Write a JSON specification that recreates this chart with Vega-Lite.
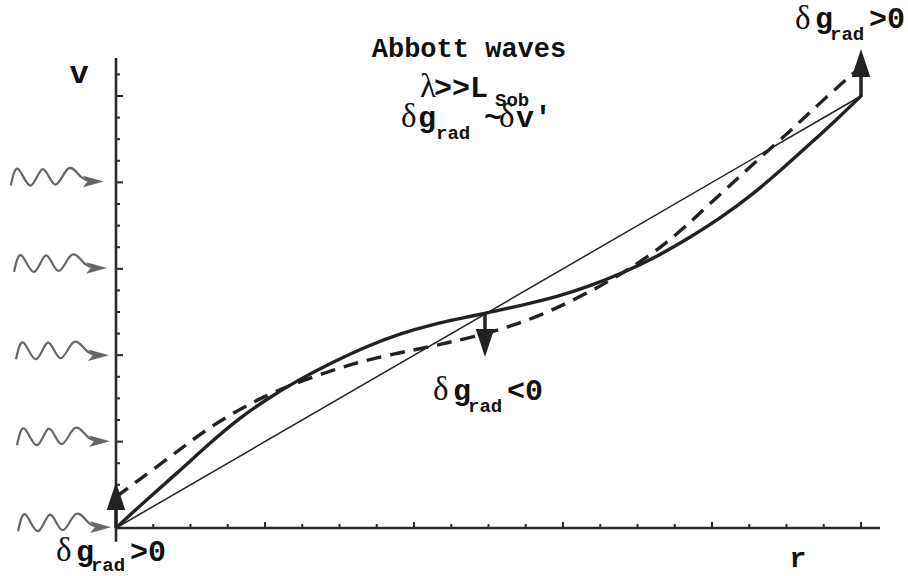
{
  "$schema": "https://vega.github.io/schema/vega-lite/v6.json",
  "width": 908,
  "height": 576,
  "autosize": "none",
  "padding": 0,
  "background": "white",
  "config": {"view": {"stroke": null}},
  "datasets": {
    "axes": [
      {"x": 0, "y": -0.032, "x2": 0, "y2": 1.088},
      {"x": 0, "y": 0, "x2": 1.0255, "y2": 0}
    ],
    "xticks": [
      {"x": 0.05, "y": 0, "m": 0}, {"x": 0.1, "y": 0, "m": 0}, {"x": 0.15, "y": 0, "m": 0}, {"x": 0.2, "y": 0, "m": 1},
      {"x": 0.25, "y": 0, "m": 0}, {"x": 0.3, "y": 0, "m": 0}, {"x": 0.35, "y": 0, "m": 0}, {"x": 0.4, "y": 0, "m": 1},
      {"x": 0.45, "y": 0, "m": 0}, {"x": 0.5, "y": 0, "m": 0}, {"x": 0.55, "y": 0, "m": 0}, {"x": 0.6, "y": 0, "m": 1},
      {"x": 0.65, "y": 0, "m": 0}, {"x": 0.7, "y": 0, "m": 0}, {"x": 0.75, "y": 0, "m": 0}, {"x": 0.8, "y": 0, "m": 1},
      {"x": 0.85, "y": 0, "m": 0}, {"x": 0.9, "y": 0, "m": 0}, {"x": 0.95, "y": 0, "m": 0}, {"x": 1.0, "y": 0, "m": 1}
    ],
    "yticks": [
      {"x": 0, "y": 0.05, "m": 0}, {"x": 0, "y": 0.1, "m": 0}, {"x": 0, "y": 0.15, "m": 0}, {"x": 0, "y": 0.2, "m": 1},
      {"x": 0, "y": 0.25, "m": 0}, {"x": 0, "y": 0.3, "m": 0}, {"x": 0, "y": 0.35, "m": 0}, {"x": 0, "y": 0.4, "m": 1},
      {"x": 0, "y": 0.45, "m": 0}, {"x": 0, "y": 0.5, "m": 0}, {"x": 0, "y": 0.55, "m": 0}, {"x": 0, "y": 0.6, "m": 1},
      {"x": 0, "y": 0.65, "m": 0}, {"x": 0, "y": 0.7, "m": 0}, {"x": 0, "y": 0.75, "m": 0}, {"x": 0, "y": 0.8, "m": 1},
      {"x": 0, "y": 0.85, "m": 0}, {"x": 0, "y": 0.9, "m": 0}, {"x": 0, "y": 0.95, "m": 0}, {"x": 0, "y": 1.0, "m": 1},
      {"x": 0, "y": 1.05, "m": 0}
    ],
    "curves": [
      {"s": "w1", "x": -0.1413, "y": 0.7927}, {"s": "w1", "x": -0.1311, "y": 0.8309}, {"s": "w1", "x": -0.1145, "y": 0.7927},
      {"s": "w1", "x": -0.0983, "y": 0.8309}, {"s": "w1", "x": -0.0818, "y": 0.7951}, {"s": "w1", "x": -0.0640, "y": 0.8321},
      {"s": "w1", "x": -0.0460, "y": 0.8113}, {"s": "w1", "x": -0.0272, "y": 0.802},
      {"s": "w2", "x": -0.1369, "y": 0.5927}, {"s": "w2", "x": -0.1267, "y": 0.6309}, {"s": "w2", "x": -0.1101, "y": 0.5927},
      {"s": "w2", "x": -0.0939, "y": 0.6309}, {"s": "w2", "x": -0.0774, "y": 0.5951}, {"s": "w2", "x": -0.0596, "y": 0.6321},
      {"s": "w2", "x": -0.0416, "y": 0.6113}, {"s": "w2", "x": -0.0228, "y": 0.602},
      {"s": "w3", "x": -0.1342, "y": 0.3907}, {"s": "w3", "x": -0.1240, "y": 0.4289}, {"s": "w3", "x": -0.1074, "y": 0.3907},
      {"s": "w3", "x": -0.0912, "y": 0.4289}, {"s": "w3", "x": -0.0747, "y": 0.3931}, {"s": "w3", "x": -0.0569, "y": 0.4301},
      {"s": "w3", "x": -0.0389, "y": 0.4093}, {"s": "w3", "x": -0.0201, "y": 0.400},
      {"s": "w4", "x": -0.1329, "y": 0.1917}, {"s": "w4", "x": -0.1227, "y": 0.2299}, {"s": "w4", "x": -0.1061, "y": 0.1917},
      {"s": "w4", "x": -0.0899, "y": 0.2299}, {"s": "w4", "x": -0.0734, "y": 0.1941}, {"s": "w4", "x": -0.0556, "y": 0.2311},
      {"s": "w4", "x": -0.0376, "y": 0.2103}, {"s": "w4", "x": -0.0188, "y": 0.201},
      {"s": "w5", "x": -0.1315, "y": -0.0073}, {"s": "w5", "x": -0.1213, "y": 0.0309}, {"s": "w5", "x": -0.1047, "y": -0.0073},
      {"s": "w5", "x": -0.0885, "y": 0.0309}, {"s": "w5", "x": -0.0720, "y": -0.0049}, {"s": "w5", "x": -0.0542, "y": 0.0321},
      {"s": "w5", "x": -0.0362, "y": 0.0113}, {"s": "w5", "x": -0.0174, "y": 0.002},
      {"s": "thin", "x": 0, "y": 0}, {"s": "thin", "x": 1, "y": 1},
      {"s": "solid", "x": 0, "y": 0}, {"s": "solid", "x": 0.04, "y": 0.064}, {"s": "solid", "x": 0.082, "y": 0.127},
      {"s": "solid", "x": 0.126, "y": 0.197}, {"s": "solid", "x": 0.166, "y": 0.255}, {"s": "solid", "x": 0.203, "y": 0.299},
      {"s": "solid", "x": 0.243, "y": 0.341}, {"s": "solid", "x": 0.291, "y": 0.384}, {"s": "solid", "x": 0.337, "y": 0.421},
      {"s": "solid", "x": 0.381, "y": 0.450}, {"s": "solid", "x": 0.426, "y": 0.472}, {"s": "solid", "x": 0.471, "y": 0.488},
      {"s": "solid", "x": 0.495, "y": 0.497}, {"s": "solid", "x": 0.546, "y": 0.516}, {"s": "solid", "x": 0.592, "y": 0.535},
      {"s": "solid", "x": 0.636, "y": 0.560}, {"s": "solid", "x": 0.681, "y": 0.591}, {"s": "solid", "x": 0.726, "y": 0.628},
      {"s": "solid", "x": 0.770, "y": 0.672}, {"s": "solid", "x": 0.812, "y": 0.718}, {"s": "solid", "x": 0.852, "y": 0.769},
      {"s": "solid", "x": 0.891, "y": 0.826}, {"s": "solid", "x": 0.936, "y": 0.896}, {"s": "solid", "x": 0.970, "y": 0.950},
      {"s": "solid", "x": 1.0, "y": 1.0},
      {"s": "dashed", "x": 0, "y": 0.072}, {"s": "dashed", "x": 0.028, "y": 0.108}, {"s": "dashed", "x": 0.063, "y": 0.152},
      {"s": "dashed", "x": 0.095, "y": 0.194}, {"s": "dashed", "x": 0.126, "y": 0.233}, {"s": "dashed", "x": 0.162, "y": 0.271},
      {"s": "dashed", "x": 0.197, "y": 0.303}, {"s": "dashed", "x": 0.234, "y": 0.331}, {"s": "dashed", "x": 0.291, "y": 0.366},
      {"s": "dashed", "x": 0.337, "y": 0.389}, {"s": "dashed", "x": 0.381, "y": 0.406}, {"s": "dashed", "x": 0.417, "y": 0.418},
      {"s": "dashed", "x": 0.448, "y": 0.430}, {"s": "dashed", "x": 0.495, "y": 0.449}, {"s": "dashed", "x": 0.533, "y": 0.469},
      {"s": "dashed", "x": 0.569, "y": 0.492}, {"s": "dashed", "x": 0.605, "y": 0.520}, {"s": "dashed", "x": 0.646, "y": 0.556},
      {"s": "dashed", "x": 0.681, "y": 0.591}, {"s": "dashed", "x": 0.713, "y": 0.627}, {"s": "dashed", "x": 0.740, "y": 0.662},
      {"s": "dashed", "x": 0.766, "y": 0.700}, {"s": "dashed", "x": 0.793, "y": 0.744}, {"s": "dashed", "x": 0.824, "y": 0.793},
      {"s": "dashed", "x": 0.855, "y": 0.842}, {"s": "dashed", "x": 0.891, "y": 0.898}, {"s": "dashed", "x": 0.918, "y": 0.940},
      {"s": "dashed", "x": 0.945, "y": 0.984}, {"s": "dashed", "x": 0.976, "y": 1.032}, {"s": "dashed", "x": 1.0, "y": 1.068}
    ],
    "wheads": [
      {"x": -0.0304, "y": 0.802}, {"x": -0.0260, "y": 0.602}, {"x": -0.0233, "y": 0.400},
      {"x": -0.0220, "y": 0.201}, {"x": -0.0206, "y": 0.002}
    ],
    "shafts": [
      {"x": 0, "y": 0, "y2": 0.075},
      {"x": 0.4953, "y": 0.4977, "y2": 0.43},
      {"x": 1.0, "y": 0.9977, "y2": 1.076}
    ],
    "heads": [
      {"d": "up", "x": 0, "y": 0.0741},
      {"d": "down", "x": 0.4953, "y": 0.4282},
      {"d": "up", "x": 1.0, "y": 1.0764}
    ],
    "texts": [
      {"k": "title", "t": "Abbott waves", "x": 0.4738, "y": 1.0903},
      {"k": "sym", "t": "λ", "x": 0.4081, "y": 0.9977},
      {"k": "main", "t": ">>L", "x": 0.4268, "y": 0.9977},
      {"k": "sub", "t": "Sob", "x": 0.5087, "y": 0.9768},
      {"k": "sym", "t": "δ", "x": 0.3826, "y": 0.9282},
      {"k": "main", "t": "g", "x": 0.4053, "y": 0.9282},
      {"k": "sub", "t": "rad", "x": 0.4295, "y": 0.9005},
      {"k": "main", "t": "~", "x": 0.4940, "y": 0.9282},
      {"k": "sym", "t": "δ", "x": 0.5141, "y": 0.9282},
      {"k": "main", "t": "v′", "x": 0.5369, "y": 0.9282},
      {"k": "sym", "t": "δ", "x": -0.0805, "y": -0.0764},
      {"k": "main", "t": "g", "x": -0.0537, "y": -0.0764},
      {"k": "sub", "t": "rad", "x": -0.0336, "y": -0.1005},
      {"k": "main", "t": ">0", "x": 0.0188, "y": -0.0764},
      {"k": "sym", "t": "δ", "x": 0.4255, "y": 0.2963},
      {"k": "main", "t": "g", "x": 0.4523, "y": 0.2963},
      {"k": "sub", "t": "rad", "x": 0.4725, "y": 0.2685},
      {"k": "main", "t": "<0", "x": 0.5248, "y": 0.2963},
      {"k": "sym", "t": "δ", "x": 0.9114, "y": 1.1551},
      {"k": "main", "t": "g", "x": 0.9382, "y": 1.1574},
      {"k": "sub", "t": "rad", "x": 0.9584, "y": 1.1296},
      {"k": "main", "t": ">0", "x": 1.0107, "y": 1.1574},
      {"k": "axl", "t": "v", "x": -0.0497, "y": 1.0301}
    ],
    "rlabel": [
      {"t": "r", "x": 0.9154, "y": -0.0903}
    ]
  },
  "encoding": {
    "x": {"field": "x", "type": "quantitative", "scale": {"domain": [-0.155705, 1.063087], "nice": false, "zero": false}, "axis": null},
    "y": {"field": "y", "type": "quantitative", "scale": {"domain": [-0.111111, 1.222222], "nice": false, "zero": false}, "axis": null}
  },
  "layer": [
    {
      "data": {"name": "axes"},
      "mark": {"type": "rule", "color": "#2a2a2a", "strokeWidth": 2.6},
      "encoding": {"x2": {"field": "x2"}, "y2": {"field": "y2"}}
    },
    {
      "data": {"name": "xticks"},
      "transform": [{"filter": "datum.m == 0"}],
      "mark": {"type": "tick", "orient": "vertical", "size": 4, "thickness": 2, "yOffset": -2, "color": "#2a2a2a", "opacity": 1},
      "encoding": {}
    },
    {
      "data": {"name": "xticks"},
      "transform": [{"filter": "datum.m == 1"}],
      "mark": {"type": "tick", "orient": "vertical", "size": 6, "thickness": 2, "yOffset": -3, "color": "#2a2a2a", "opacity": 1},
      "encoding": {}
    },
    {
      "data": {"name": "yticks"},
      "transform": [{"filter": "datum.m == 0"}],
      "mark": {"type": "tick", "orient": "horizontal", "size": 4, "thickness": 2, "xOffset": 2, "color": "#2a2a2a", "opacity": 1},
      "encoding": {}
    },
    {
      "data": {"name": "yticks"},
      "transform": [{"filter": "datum.m == 1"}],
      "mark": {"type": "tick", "orient": "horizontal", "size": 7, "thickness": 2, "xOffset": 3.5, "color": "#2a2a2a", "opacity": 1},
      "encoding": {}
    },
    {
      "data": {"name": "curves"},
      "transform": [{"filter": {"field": "s", "oneOf": ["w1", "w2", "w3", "w4", "w5"]}}],
      "mark": {"type": "line", "interpolate": "natural", "color": "#666666", "strokeWidth": 2.2},
      "encoding": {"detail": {"field": "s"}}
    },
    {
      "data": {"name": "wheads"},
      "mark": {"type": "point", "shape": "M1,0L-1,-0.55L-0.55,0L-1,0.55Z", "size": 441, "filled": true, "color": "#666666", "opacity": 1, "strokeWidth": 0},
      "encoding": {}
    },
    {
      "data": {"name": "curves"},
      "transform": [{"filter": "datum.s == 'thin'"}],
      "mark": {"type": "line", "color": "#222", "strokeWidth": 1.5},
      "encoding": {}
    },
    {
      "data": {"name": "curves"},
      "transform": [{"filter": "datum.s == 'solid'"}],
      "mark": {"type": "line", "interpolate": "basis", "color": "#222", "strokeWidth": 3.4},
      "encoding": {}
    },
    {
      "data": {"name": "curves"},
      "transform": [{"filter": "datum.s == 'dashed'"}],
      "mark": {"type": "line", "interpolate": "basis", "color": "#222", "strokeWidth": 3.4, "strokeDash": [15, 9]},
      "encoding": {}
    },
    {
      "data": {"name": "shafts"},
      "mark": {"type": "rule", "color": "#222", "strokeWidth": 3.5},
      "encoding": {"y2": {"field": "y2"}}
    },
    {
      "data": {"name": "heads"},
      "transform": [{"filter": "datum.d == 'up'"}],
      "mark": {"type": "point", "shape": "M0,-1L-0.66,1L0.66,1Z", "size": 784, "filled": true, "color": "#222", "opacity": 1, "strokeWidth": 0},
      "encoding": {}
    },
    {
      "data": {"name": "heads"},
      "transform": [{"filter": "datum.d == 'down'"}],
      "mark": {"type": "point", "shape": "M0,1L-0.66,-1L0.66,-1Z", "size": 784, "filled": true, "color": "#222", "opacity": 1, "strokeWidth": 0},
      "encoding": {}
    },
    {
      "data": {"name": "texts"},
      "transform": [{"filter": "datum.k == 'title'"}],
      "mark": {"type": "text", "font": "Liberation Mono", "fontWeight": "bold", "fontSize": 27, "align": "center", "baseline": "alphabetic", "color": "#111"},
      "encoding": {"text": {"field": "t"}}
    },
    {
      "data": {"name": "texts"},
      "transform": [{"filter": "datum.k == 'main'"}],
      "mark": {"type": "text", "font": "Liberation Mono", "fontWeight": "bold", "fontSize": 30, "align": "left", "baseline": "alphabetic", "color": "#111"},
      "encoding": {"text": {"field": "t"}}
    },
    {
      "data": {"name": "texts"},
      "transform": [{"filter": "datum.k == 'sub'"}],
      "mark": {"type": "text", "font": "Liberation Mono", "fontWeight": "bold", "fontSize": 19, "align": "left", "baseline": "alphabetic", "color": "#111"},
      "encoding": {"text": {"field": "t"}}
    },
    {
      "data": {"name": "texts"},
      "transform": [{"filter": "datum.k == 'sym'"}],
      "mark": {"type": "text", "font": "Liberation Serif", "fontSize": 33, "align": "left", "baseline": "alphabetic", "color": "#111"},
      "encoding": {"text": {"field": "t"}}
    },
    {
      "data": {"name": "texts"},
      "transform": [{"filter": "datum.k == 'axl'"}],
      "mark": {"type": "text", "font": "Liberation Mono", "fontWeight": "bold", "fontSize": 32, "align": "center", "baseline": "alphabetic", "color": "#111"},
      "encoding": {"text": {"field": "t"}}
    },
    {
      "data": {"name": "rlabel"},
      "mark": {"type": "text", "font": "Liberation Mono", "fontWeight": "bold", "fontSize": 28, "align": "center", "baseline": "alphabetic", "color": "#111"},
      "encoding": {"text": {"field": "t"}}
    }
  ]
}
